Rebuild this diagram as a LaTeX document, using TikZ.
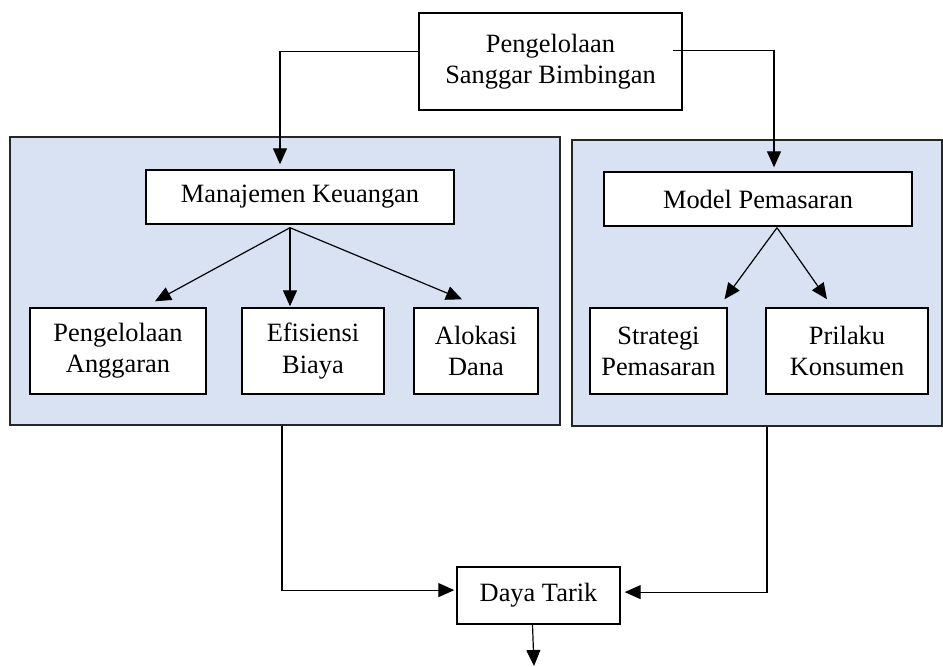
\documentclass[tikz,border=0pt]{standalone}
\usepackage{fontspec}
\setmainfont{Liberation Serif}
\usetikzlibrary{arrows.meta, positioning, calc}
\definecolor{birumuda}{HTML}{D9E2F3}

\begin{document}
\begin{tikzpicture}[x=0.5pt, y=-0.5pt,
    kotak/.style={draw, fill=white, line width=0.7pt, align=center, inner sep=0pt,
                  font=\fontsize{13.2}{15.6}\selectfont},
    panel/.style={draw=black!85, fill=birumuda, line width=1.1pt, inner sep=0pt},
    panah/.style={-{Triangle[width=7pt,length=8pt]}, line width=0.6pt}]
        \useasboundingbox (0,0) rectangle (943,666);

        % kotak latar
        \node[panel, minimum width=275pt, minimum height=144pt] (kiri) at (285,281) {};
        \node[panel, minimum width=185pt, minimum height=143pt] (kanan) at (757,283) {};

        \node[kotak, minimum width=131.5pt, minimum height=48.5pt] (psb) at (550.5,61.5) {Pengelolaan\\Sanggar Bimbingan};

        \node[kotak, minimum width=154pt, minimum height=27pt] (mk) at (300,197) {Manajemen Keuangan};
        \node[kotak, minimum width=88pt, minimum height=43pt] (pa) at (118,351) {Pengelolaan\\Anggaran};
        \node[kotak, minimum width=71pt, minimum height=43pt] (eb) at (313,351) {Efisiensi\\Biaya};
        \node[kotak, minimum width=62pt, minimum height=43pt] (ad) at (476,351) {Alokasi\\Dana};

        \node[kotak, minimum width=154pt, minimum height=27pt] (mp) at (758,199) {Model Pemasaran};
        \node[kotak, minimum width=68.5pt, minimum height=43pt] (sp) at (658.5,351) {Strategi\\Pemasaran};
        \node[kotak, minimum width=81pt, minimum height=43pt] (pk) at (847,351) {Prilaku\\Konsumen};

        \node[kotak, minimum width=81.5pt, minimum height=28.5pt] (dt) at (538.5,595.5) {Daya Tarik};
        \coordinate (akhir) at (534,666);

        % panah dari atas
        \draw[panah] ([yshift=5.2pt]psb.west) -| ([xshift=-10pt,yshift=2.5pt]mk.north);
        \draw[panah] ([xshift=-5pt,yshift=5.7pt]psb.east) -| ([xshift=8pt,yshift=2pt]mp.north);

        \coordinate (mkb) at ([xshift=-5pt,yshift=-1.5pt]mk.south);
        \draw[panah] (mkb) -- ([xshift=18.5pt,yshift=3pt]pa.north);
        \draw[panah] (mkb) -- ([xshift=-11.5pt,yshift=0.5pt]eb.north);
        \draw[panah] (mkb) -- ([xshift=-7pt,yshift=4pt]ad.north);

        \coordinate (mpb) at ([xshift=9.5pt,yshift=-0.5pt]mp.south);
        \draw[panah] (mpb) -- ([xshift=33pt,yshift=4pt]sp.north);
        \draw[panah] (mpb) -- ([xshift=-10pt,yshift=4pt]pk.north);

        % ke daya tarik
        \draw[panah] ([xshift=-1.5pt]kiri.south) |- ([xshift=-1pt,yshift=2.7pt]dt.west);
        \draw[panah] ([xshift=5pt]kanan.south) |- ([xshift=2pt,yshift=1.7pt]dt.east);
        \draw[panah] ([xshift=-3pt]dt.south) -- (akhir);
    \end{tikzpicture}
\end{document}
